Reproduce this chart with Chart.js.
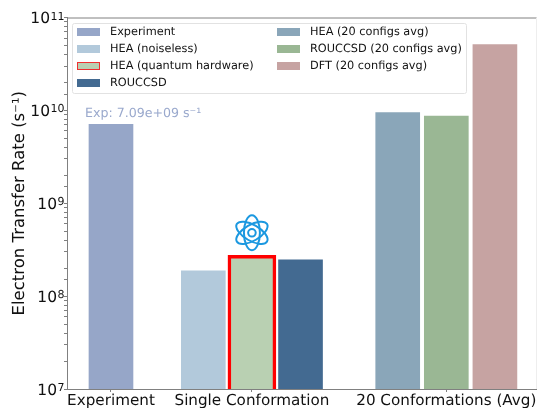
<!DOCTYPE html>
<html>
<head>
<meta charset="utf-8">
<style>body{margin:0;background:#fff}</style>
<script src="https://cdn.jsdelivr.net/npm/chart.js@4"></script>
</head>
<body>
<canvas id="myChart" width="537" height="408"></canvas>
<script>
var seriesNames = ["Experiment", "HEA (noiseless)", "HEA (quantum hardware)", "ROUCCSD", "HEA (20 configs avg)", "ROUCCSD (20 configs avg)", "DFT (20 configs avg)"];
var seriesX = [0, 1.9, 2.9, 3.9, 5.9, 6.9, 7.9];
var seriesValues = [7.09e9, 1.87e8, 2.75e8, 2.46e8, 9.46e9, 8.67e9, 5.1e10];
var seriesColors = ["#96a6c8", "#b2c9db", "#b9d0b2", "#436a91", "#8aa6b9", "#9ab794", "#c6a3a2"];
var tickPositions = [0, 2.9, 6.9];
var tickNames = ["Experiment", "Single Conformation", "20 Conformations (Avg)"];
var expNote = "Exp: 7.09e+09 s⁻¹";
var FONT = '"DejaVu Sans"';
var TEXT = "#111111";

var datasets = seriesNames.map(function (name, i) {
  var isHardware = name == "HEA (quantum hardware)";
  return {
    label: name,
    data: [{x: seriesX[i], y: seriesValues[i]}],
    backgroundColor: seriesColors[i],
    borderColor: isHardware ? "#ff0000" : "rgba(255,255,255,0)",
    borderWidth: isHardware ? 3.5 : 0,
    borderSkipped: "bottom",
    barThickness: isHardware ? 48 : 44,
    grouped: false
  };
});

// legend box, spines, power labels, note above the experiment bar, atom icon
var extras = {
  id: "extras",
  beforeDraw: function (chart) {
    chart.ctx.textRendering = "geometricPrecision";
  },
  afterDatasetsDraw: function (chart) {
    var c = chart.ctx, a = chart.chartArea;
    var xs = chart.scales.x, ys = chart.scales.y;
    c.save();

    c.strokeStyle = "#808080";
    c.lineWidth = 1;
    c.beginPath();
    c.moveTo(a.left, a.top + 0.5);
    c.lineTo(a.right, a.top + 0.5);
    c.stroke();
    c.strokeStyle = "#eeeeee";
    c.beginPath();
    c.moveTo(a.right - 0.5, a.top);
    c.lineTo(a.right - 0.5, a.bottom);
    c.stroke();

    // 10 with a raised exponent
    c.fillStyle = TEXT;
    c.textBaseline = "alphabetic";
    c.textAlign = "right";
    ys.ticks.forEach(function (t) {
      var p = Math.round(Math.log10(t.value));
      if (Math.abs(t.value - Math.pow(10, p)) > 1) return;
      var y = ys.getPixelForValue(t.value);
      var exp = String(p);
      c.font = "11px " + FONT;
      var w = c.measureText(exp).width;
      c.fillText(exp, 64.5, y + 2);
      c.font = "15.5px " + FONT;
      c.fillText("10", 64.5 - w - 0.5, y + 5.5);
    });

    c.fillStyle = "#9aa9cd";
    c.font = "12.6px " + FONT;
    c.textBaseline = "middle";
    c.textAlign = "left";
    c.fillText(expNote, xs.getPixelForValue(seriesX[0]) - 26, ys.getPixelForValue(seriesValues[0]) - 11);

    // atom
    var ax = xs.getPixelForValue(seriesX[2]), ay = ys.getPixelForValue(seriesValues[2]) - 22.5;
    c.strokeStyle = "#1b98e0";
    c.lineWidth = 2;
    [0, Math.PI / 3, -Math.PI / 3].forEach(function (rot) {
      c.beginPath();
      c.ellipse(ax, ay, 17.5, 8, rot + Math.PI / 2, 0, Math.PI * 2);
      c.stroke();
    });
    c.beginPath();
    c.arc(ax, ay, 3.8, 0, Math.PI * 2);
    c.stroke();

    // legend
    c.fillStyle = "rgba(255,255,255,0.8)";
    c.strokeStyle = "#e2e2e2";
    c.lineWidth = 1;
    c.beginPath();
    c.roundRect(72.5, 23.5, 394, 70, 2);
    c.fill();
    c.stroke();
    c.font = "11.3px " + FONT;
    var rows = [32, 49, 66, 83];
    seriesNames.forEach(function (name, i) {
      var col = i < 4 ? 0 : 1;
      var y = rows[col ? i - 4 : i];
      var bx = col ? 277 : 77;
      c.fillStyle = seriesColors[i];
      c.fillRect(bx, y - 4, 23, 8);
      if (name == "HEA (quantum hardware)") {
        c.strokeStyle = "#f03030";
        c.strokeRect(bx + 0.5, y - 3.5, 22, 7);
      }
      c.fillStyle = TEXT;
      c.fillText(name, bx + 33, y + 0.5);
    });
    c.restore();
  }
};

new Chart(document.getElementById("myChart").getContext("2d"), {
  type: "bar",
  data: {datasets: datasets},
  plugins: [extras],
  options: {
    responsive: false,
    animation: false,
    layout: {padding: {top: 17.5, right: 0}},
    plugins: {legend: {display: false}, tooltip: {enabled: false}},
    scales: {
      x: {
        type: "linear",
        offset: false,
        min: -0.905,
        max: 8.766,
        afterBuildTicks: function (scale) {
          scale.ticks = tickPositions.map(function (v) { return {value: v}; });
        },
        afterFit: function (scale) { scale.height = 19; },
        grid: {offset: false, drawOnChartArea: false, tickLength: 3, tickColor: "#808080"},
        border: {color: "#808080"},
        ticks: {
          autoSkip: false,
          maxRotation: 0,
          padding: 0,
          color: TEXT,
          font: {family: FONT, size: 15.2},
          callback: function (v) { return tickNames[tickPositions.indexOf(v)]; }
        }
      },
      y: {
        type: "logarithmic",
        min: 1e7,
        max: 1e11,
        afterFit: function (scale) { scale.width = 67; },
        grid: {drawOnChartArea: false, tickLength: 3, tickColor: "#808080"},
        border: {color: "#808080"},
        title: {
          display: true,
          text: "Electron Transfer Rate (s⁻¹)",
          color: TEXT,
          font: {family: FONT, size: 16.5},
          padding: {top: 10, bottom: 0}
        },
        ticks: {
          autoSkip: false,
          callback: function () { return ""; }
        }
      }
    }
  }
});
</script>
</body>
</html>
